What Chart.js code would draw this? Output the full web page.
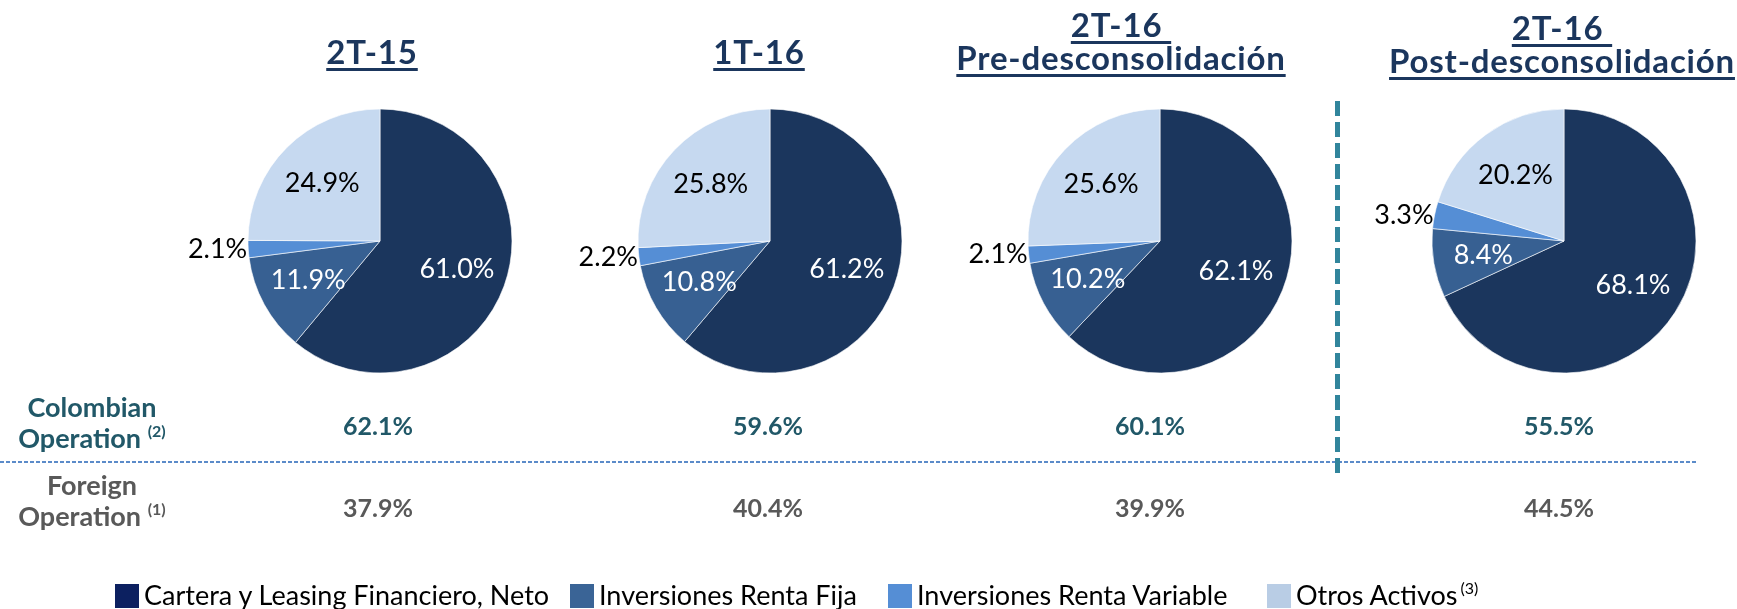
<!DOCTYPE html>
<html>
<head>
<meta charset="utf-8">
<script src="https://cdn.jsdelivr.net/npm/chart.js@4.4.1/dist/chart.umd.min.js"></script>
<style>
  html, body { margin:0; padding:0; background:#fff; }
  #root { position:relative; width:1737px; height:609px; overflow:hidden; font-family: Lato, "Open Sans", sans-serif; }
  .pie { position:absolute; }
  .title { position:absolute; font-weight:700; font-size:33px; line-height:33px; letter-spacing:0.8px; color:#1b365d; text-align:center; white-space:nowrap;
           text-decoration:underline; text-decoration-thickness:3px; text-underline-offset:4px; transform:translateX(-50%); }
  .rowlab { position:absolute; left:2px; width:180px; text-align:center; font-weight:700; font-size:27px; line-height:31px; white-space:nowrap; }
  .val { position:absolute; font-weight:700; font-size:25px; line-height:34px; transform:translateX(-50%); white-space:nowrap; }
  .sup { font-size:16px; position:relative; top:-11px; font-weight:700; }
  .leg { position:absolute; top:580px; font-size:27px; line-height:30px; color:#000; white-space:nowrap; }
  .sw { position:absolute; top:584px; width:24px; height:24px; }
  #lines { position:absolute; left:0; top:0; }
</style>
</head>
<body>
<div id="root">
  <canvas id="lines" width="1737" height="609"></canvas>
</div>
<script>
// ---- data ----
const categories = ['Cartera y Leasing Financiero, Neto', 'Inversiones Renta Fija', 'Inversiones Renta Variable', 'Otros Activos'];
const categoryNotes = ['', '', '', '(3)'];
const titleLine1 = ['2T-15', '1T-16', '2T-16\u00a0', '2T-16\u00a0'];
const titleLine2 = ['', '', 'Pre-desconsolidación', 'Post-desconsolidación'];
const shares2T15 = [61.0, 11.9, 2.1, 24.9];
const shares1T16 = [61.2, 10.8, 2.2, 25.8];
const shares2T16Pre = [62.1, 10.2, 2.1, 25.6];
const shares2T16Post = [68.1, 8.4, 3.3, 20.2];
const colombianOperation = [62.1, 59.6, 60.1, 55.5];
const foreignOperation = [37.9, 40.4, 39.9, 44.5];
const rowLabels = ['Colombian', 'Foreign'];
const rowNotes = ['(2)', '(1)'];

// ---- styles / layout ----
const sliceColors = ['#1b365d', '#376092', '#558ed5', '#c6d9f0'];
const legendColors = ['#0c2060', '#3a6496', '#558ed5', '#b9cde5'];
const labelColors = ['#ffffff', '#ffffff', '#000000', '#000000'];
const pieCenters = [380, 770, 1160, 1564];
const pieCY = 241, pieR = 132;
const titleCenters = [372, 759, 1121, 1562];
const valueCenters = [378, 768, 1150, 1559];
const allShares = [shares2T15, shares1T16, shares2T16Pre, shares2T16Post];

const root = document.getElementById('root');

// label plugin
const sliceLabels = {
  id: 'sliceLabels',
  afterDatasetsDraw(chart) {
    const ctx = chart.ctx;
    const ds = chart.data.datasets[0];
    const meta = chart.getDatasetMeta(0);
    ctx.save();
    ctx.font = '27px Lato, "Open Sans", sans-serif';
    meta.data.forEach((arc, i) => {
      const p = arc.getProps(['x', 'y', 'startAngle', 'endAngle', 'outerRadius'], true);
      const mid = (p.startAngle + p.endAngle) / 2;
      const v = ds.data[i];
      const txt = v.toFixed(1) + '%';
      ctx.textBaseline = 'middle';
      if (v < 5) {
        const r = p.outerRadius + 1;
        ctx.textAlign = 'right';
        ctx.fillStyle = '#000';
        ctx.fillText(txt, p.x + Math.cos(mid) * r, p.y + Math.sin(mid) * r);
      } else {
        const r = p.outerRadius * 0.62;
        ctx.textAlign = 'center';
        ctx.fillStyle = labelColors[i];
        ctx.fillText(txt, p.x + Math.cos(mid) * r, p.y + Math.sin(mid) * r);
      }
    });
    ctx.restore();
  }
};

allShares.forEach((shares, k) => {
  const cv = document.createElement('canvas');
  cv.className = 'pie';
  cv.width = 440; cv.height = 300;
  cv.style.left = (pieCenters[k] - 220) + 'px';
  cv.style.top = (pieCY - 150) + 'px';
  root.appendChild(cv);
  new Chart(cv, {
    type: 'pie',
    data: {
      labels: categories,
      datasets: [{ data: shares, backgroundColor: sliceColors, borderColor: 'rgba(255,255,255,0.6)', borderWidth: 1 }]
    },
    options: {
      responsive: false, animation: false, radius: pieR,
      layout: { padding: 0 },
      plugins: { legend: { display: false }, tooltip: { enabled: false } }
    },
    plugins: [sliceLabels]
  });

  // titles
  const t = document.createElement('div');
  t.className = 'title';
  t.style.left = titleCenters[k] + 'px';
  if (titleLine2[k]) {
    t.style.top = (k === 3 ? 10.5 : 7.5) + 'px';
    t.innerHTML = titleLine1[k] + '<br>' + titleLine2[k];
  } else {
    t.style.top = '34.5px';
    t.textContent = titleLine1[k];
  }
  root.appendChild(t);

  // values
  const c = document.createElement('div');
  c.className = 'val'; c.style.left = valueCenters[k] + 'px'; c.style.top = '408px'; c.style.color = '#215868';
  c.textContent = colombianOperation[k].toFixed(1) + '%';
  root.appendChild(c);
  const f = document.createElement('div');
  f.className = 'val'; f.style.left = valueCenters[k] + 'px'; f.style.top = '490px'; f.style.color = '#595959';
  f.textContent = foreignOperation[k].toFixed(1) + '%';
  root.appendChild(f);
});

// row labels
[[rowLabels[0], rowNotes[0], 391, '#215868'], [rowLabels[1], rowNotes[1], 469, '#595959']].forEach(([name, note, top, col]) => {
  const d = document.createElement('div');
  d.className = 'rowlab';
  d.style.top = top + 'px'; d.style.color = col;
  d.innerHTML = name + '<br>Operation <span class="sup">' + note + '</span>';
  root.appendChild(d);
});

// legend
const legX = [115, 570, 888, 1267];
categories.forEach((name, i) => {
  const s = document.createElement('div');
  s.className = 'sw'; s.style.left = legX[i] + 'px'; s.style.background = legendColors[i];
  root.appendChild(s);
  const l = document.createElement('div');
  l.className = 'leg'; l.style.left = (legX[i] + 29) + 'px';
  l.innerHTML = name + (categoryNotes[i] ? '<span style="font-size:16px;position:relative;top:-11px;margin-left:3px">' + categoryNotes[i] + '</span>' : '');
  root.appendChild(l);
});

// separator lines
const lc = document.getElementById('lines').getContext('2d');
lc.strokeStyle = '#5b8bc9'; lc.lineWidth = 2; lc.setLineDash([4, 2]);
lc.beginPath(); lc.moveTo(0, 462); lc.lineTo(1696, 462); lc.stroke();
lc.strokeStyle = '#31859c'; lc.lineWidth = 5; lc.setLineDash([15, 6]);
lc.beginPath(); lc.moveTo(1337.5, 101); lc.lineTo(1337.5, 478); lc.stroke();
</script>
</body>
</html>
